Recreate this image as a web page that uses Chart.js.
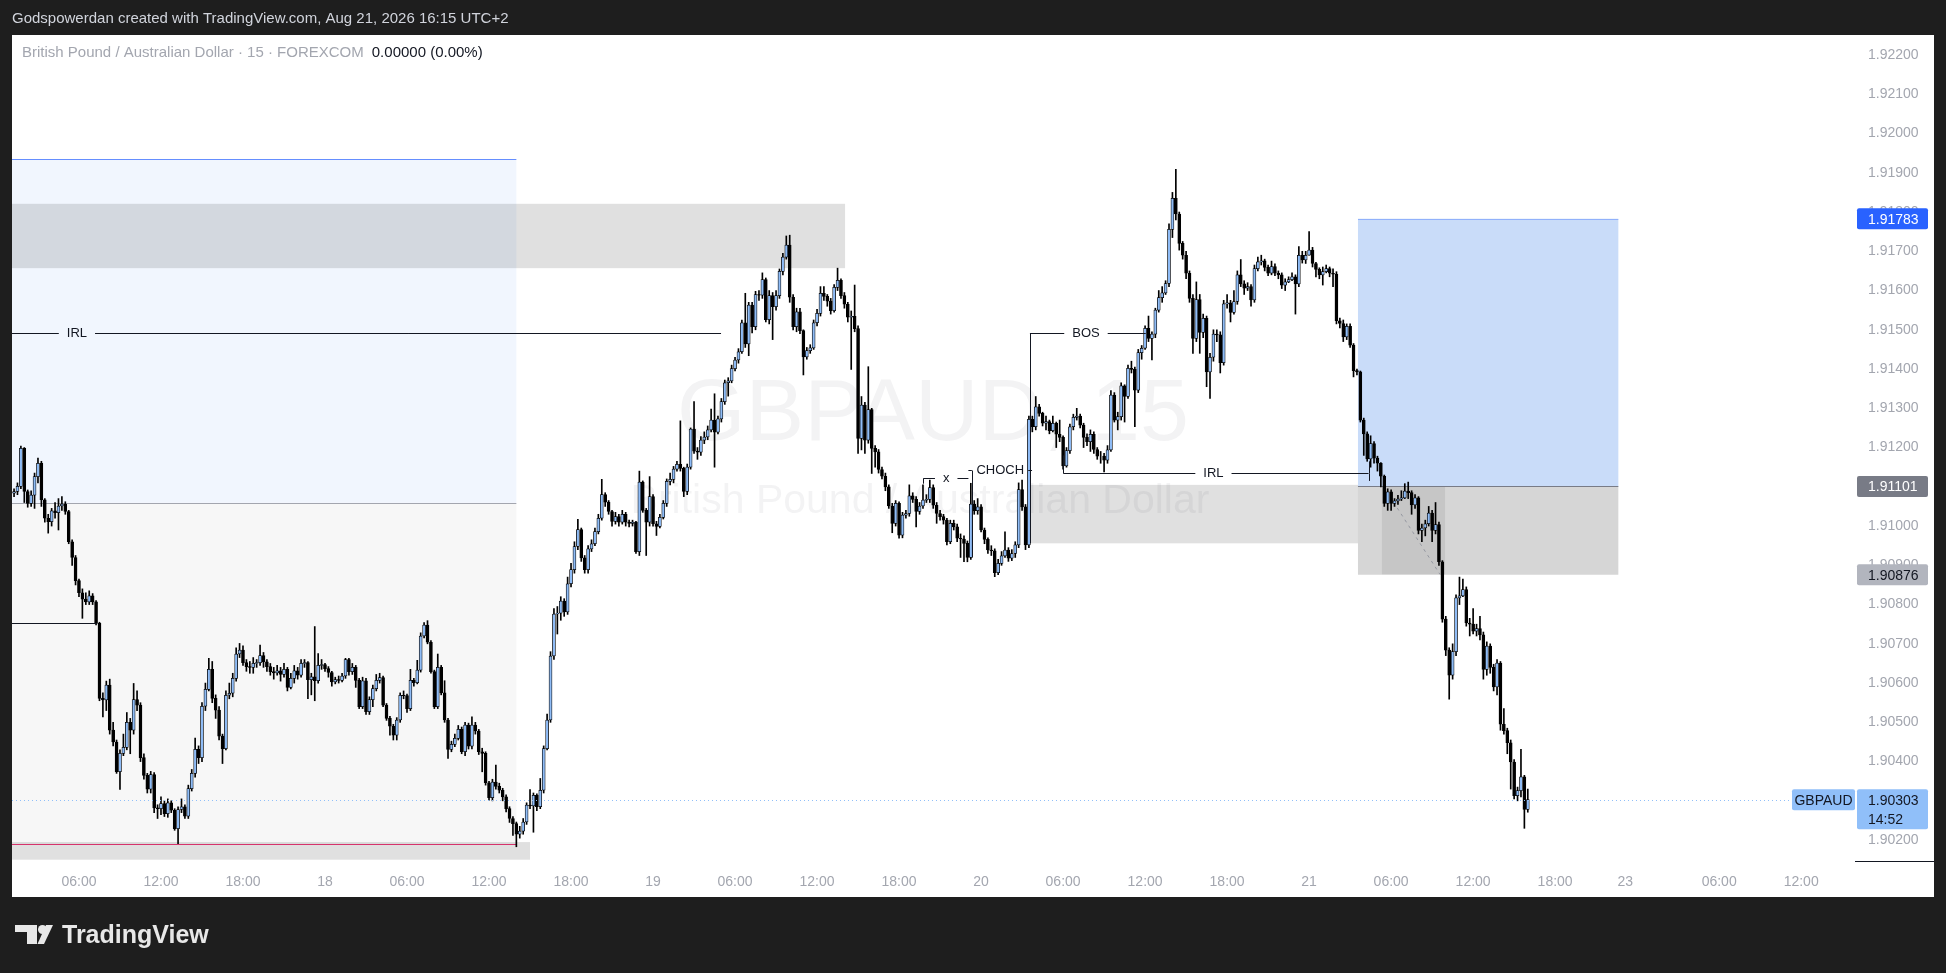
<!DOCTYPE html>
<html>
<head>
<meta charset="utf-8">
<title>GBPAUD 15</title>
<script src="https://cdn.jsdelivr.net/npm/chart.js@4.4.1/dist/chart.umd.min.js"></script>
<style>
  html, body { margin: 0; padding: 0; background: #1e1e1e; overflow: hidden; }
  #chart { display: block; }
</style>
</head>
<body>
<canvas id="chart" width="1946" height="973"></canvas>
<script>
// 15 min candles, Aug 17 01:15 -> Aug 21 16:00 (UTC+2). open of each bar = previous close
const firstOpen = 1.91084;
const closes = [
  1.91088, 1.91101, 1.91198, 1.91088, 1.91058, 1.91079, 1.91126, 1.91160, 1.91067, 1.91020,
  1.91011, 1.91039, 1.91034, 1.91051, 1.91056, 1.91037, 1.90960, 1.90920, 1.90861, 1.90830,
  1.90814, 1.90807, 1.90822, 1.90807, 1.90752, 1.90561, 1.90557, 1.90595, 1.90480, 1.90450,
  1.90374, 1.90421, 1.90436, 1.90500, 1.90480, 1.90558, 1.90544, 1.90410, 1.90365, 1.90330,
  1.90367, 1.90282, 1.90280, 1.90293, 1.90267, 1.90295, 1.90276, 1.90229, 1.90278, 1.90285,
  1.90261, 1.90331, 1.90370, 1.90431, 1.90410, 1.90541, 1.90584, 1.90635, 1.90561, 1.90531,
  1.90465, 1.90433, 1.90569, 1.90574, 1.90612, 1.90674, 1.90684, 1.90652, 1.90642, 1.90640,
  1.90650, 1.90652, 1.90670, 1.90654, 1.90642, 1.90629, 1.90626, 1.90631, 1.90622, 1.90635,
  1.90589, 1.90612, 1.90631, 1.90620, 1.90650, 1.90652, 1.90609, 1.90616, 1.90606, 1.90645,
  1.90647, 1.90637, 1.90627, 1.90603, 1.90609, 1.90607, 1.90618, 1.90660, 1.90629, 1.90640,
  1.90607, 1.90540, 1.90606, 1.90527, 1.90558, 1.90586, 1.90607, 1.90614, 1.90544, 1.90510,
  1.90490, 1.90467, 1.90506, 1.90569, 1.90568, 1.90535, 1.90607, 1.90601, 1.90633, 1.90720,
  1.90748, 1.90704, 1.90629, 1.90540, 1.90640, 1.90575, 1.90506, 1.90431, 1.90444, 1.90459,
  1.90482, 1.90425, 1.90493, 1.90439, 1.90493, 1.90478, 1.90425, 1.90421, 1.90346, 1.90308,
  1.90348, 1.90337, 1.90327, 1.90310, 1.90280, 1.90255, 1.90242, 1.90215, 1.90223, 1.90246,
  1.90289, 1.90287, 1.90314, 1.90285, 1.90327, 1.90433, 1.90506, 1.90669, 1.90776, 1.90778,
  1.90809, 1.90781, 1.90853, 1.90889, 1.90948, 1.90991, 1.90919, 1.90889, 1.90942, 1.90955,
  1.90986, 1.91020, 1.91080, 1.91061, 1.91037, 1.91012, 1.91024, 1.91010, 1.91030, 1.91010,
  1.91007, 1.91010, 1.90935, 1.91112, 1.91040, 1.91010, 1.91075, 1.91006, 1.90999, 1.91022,
  1.91058, 1.91114, 1.91119, 1.91145, 1.91157, 1.91147, 1.91088, 1.91150, 1.91247, 1.91191,
  1.91188, 1.91219, 1.91227, 1.91245, 1.91270, 1.91239, 1.91273, 1.91317, 1.91365, 1.91370,
  1.91401, 1.91423, 1.91444, 1.91518, 1.91464, 1.91563, 1.91508, 1.91590, 1.91588, 1.91628,
  1.91526, 1.91587, 1.91559, 1.91587, 1.91649, 1.91685, 1.91716, 1.91583, 1.91508, 1.91546,
  1.91498, 1.91431, 1.91447, 1.91454, 1.91518, 1.91542, 1.91593, 1.91585, 1.91573, 1.91549,
  1.91608, 1.91626, 1.91587, 1.91565, 1.91532, 1.91534, 1.91503, 1.91223, 1.91308, 1.91219,
  1.91297, 1.91198, 1.91189, 1.91144, 1.91127, 1.91100, 1.91051, 1.91007, 1.91058, 1.90977,
  1.91028, 1.91032, 1.91077, 1.91068, 1.91037, 1.91051, 1.91066, 1.91068, 1.91098, 1.91053,
  1.91032, 1.91024, 1.91015, 1.90960, 1.91007, 1.90998, 1.90969, 1.90967, 1.90956, 1.90920,
  1.91056, 1.91039, 1.91049, 1.90990, 1.90966, 1.90939, 1.90937, 1.90881, 1.90905, 1.90924,
  1.90939, 1.90918, 1.90930, 1.90952, 1.91093, 1.91049, 1.90952, 1.91272, 1.91253, 1.91304,
  1.91287, 1.91262, 1.91266, 1.91243, 1.91262, 1.91234, 1.91226, 1.91153, 1.91192, 1.91253,
  1.91277, 1.91280, 1.91257, 1.91226, 1.91215, 1.91234, 1.91195, 1.91178, 1.91178, 1.91168,
  1.91194, 1.91334, 1.91270, 1.91279, 1.91357, 1.91330, 1.91402, 1.91399, 1.91346, 1.91442,
  1.91453, 1.91504, 1.91478, 1.91489, 1.91550, 1.91582, 1.91594, 1.91618, 1.91756, 1.91835,
  1.91795, 1.91720, 1.91690, 1.91644, 1.91580, 1.91478, 1.91577, 1.91493, 1.91529, 1.91393,
  1.91430, 1.91489, 1.91487, 1.91416, 1.91566, 1.91569, 1.91544, 1.91572, 1.91640, 1.91617,
  1.91606, 1.91610, 1.91576, 1.91656, 1.91673, 1.91676, 1.91659, 1.91644, 1.91661, 1.91644,
  1.91640, 1.91614, 1.91622, 1.91628, 1.91635, 1.91617, 1.91690, 1.91678, 1.91690, 1.91703,
  1.91669, 1.91654, 1.91640, 1.91648, 1.91656, 1.91644, 1.91642, 1.91523, 1.91516, 1.91482,
  1.91509, 1.91461, 1.91396, 1.91393, 1.91270, 1.91235, 1.91171, 1.91210, 1.91173, 1.91160,
  1.91127, 1.91058, 1.91087, 1.91058, 1.91064, 1.91069, 1.91072, 1.91089, 1.91085, 1.91054,
  1.91072, 1.90989, 1.90995, 1.91006, 1.91033, 1.90989, 1.91004, 1.90909, 1.90763, 1.90684,
  1.90620, 1.90680, 1.90817, 1.90822, 1.90838, 1.90753, 1.90750, 1.90732, 1.90739, 1.90723,
  1.90635, 1.90694, 1.90640, 1.90590, 1.90651, 1.90495, 1.90479, 1.90448, 1.90399, 1.90313,
  1.90326, 1.90361, 1.90278, 1.90303
];
const highs = [
  1.91095, 1.91110, 1.91204, 1.91200, 1.91092, 1.91090, 1.91135, 1.91173, 1.91165, 1.91070,
  1.91030, 1.91045, 1.91060, 1.91070, 1.91075, 1.91062, 1.91040, 1.90965, 1.90925, 1.90865,
  1.90840, 1.90830, 1.90835, 1.90828, 1.90810, 1.90755, 1.90575, 1.90605, 1.90610, 1.90500,
  1.90455, 1.90430, 1.90470, 1.90525, 1.90510, 1.90599, 1.90580, 1.90550, 1.90420, 1.90370,
  1.90375, 1.90372, 1.90290, 1.90310, 1.90300, 1.90305, 1.90300, 1.90280, 1.90285, 1.90305,
  1.90290, 1.90340, 1.90380, 1.90460, 1.90440, 1.90550, 1.90600, 1.90663, 1.90655, 1.90570,
  1.90540, 1.90470, 1.90580, 1.90600, 1.90625, 1.90690, 1.90701, 1.90695, 1.90660, 1.90655,
  1.90665, 1.90660, 1.90697, 1.90678, 1.90660, 1.90650, 1.90640, 1.90645, 1.90640, 1.90650,
  1.90640, 1.90625, 1.90645, 1.90640, 1.90660, 1.90660, 1.90655, 1.90625, 1.90744, 1.90675,
  1.90660, 1.90650, 1.90642, 1.90630, 1.90615, 1.90618, 1.90625, 1.90663, 1.90663, 1.90650,
  1.90645, 1.90612, 1.90615, 1.90612, 1.90565, 1.90595, 1.90622, 1.90625, 1.90618, 1.90548,
  1.90515, 1.90495, 1.90512, 1.90575, 1.90580, 1.90572, 1.90635, 1.90612, 1.90658, 1.90728,
  1.90754, 1.90759, 1.90708, 1.90633, 1.90674, 1.90645, 1.90606, 1.90510, 1.90452, 1.90470,
  1.90492, 1.90488, 1.90500, 1.90498, 1.90514, 1.90500, 1.90482, 1.90434, 1.90425, 1.90350,
  1.90355, 1.90391, 1.90345, 1.90332, 1.90315, 1.90285, 1.90260, 1.90246, 1.90235, 1.90255,
  1.90295, 1.90329, 1.90320, 1.90318, 1.90357, 1.90440, 1.90521, 1.90680, 1.90790, 1.90795,
  1.90820, 1.90815, 1.90870, 1.90905, 1.90960, 1.91017, 1.90995, 1.90925, 1.90950, 1.90965,
  1.90995, 1.91030, 1.91119, 1.91085, 1.91065, 1.91040, 1.91035, 1.91030, 1.91040, 1.91035,
  1.91015, 1.91015, 1.91012, 1.91140, 1.91115, 1.91045, 1.91126, 1.91080, 1.91012, 1.91030,
  1.91065, 1.91120, 1.91135, 1.91152, 1.91165, 1.91268, 1.91150, 1.91158, 1.91250, 1.91317,
  1.91200, 1.91228, 1.91240, 1.91255, 1.91298, 1.91337, 1.91280, 1.91325, 1.91372, 1.91378,
  1.91410, 1.91430, 1.91452, 1.91525, 1.91593, 1.91570, 1.91570, 1.91598, 1.91600, 1.91645,
  1.91632, 1.91600, 1.91595, 1.91600, 1.91655, 1.91695, 1.91739, 1.91741, 1.91590, 1.91555,
  1.91555, 1.91500, 1.91455, 1.91462, 1.91525, 1.91552, 1.91610, 1.91610, 1.91590, 1.91580,
  1.91615, 1.91657, 1.91630, 1.91595, 1.91570, 1.91548, 1.91614, 1.91510, 1.91330, 1.91315,
  1.91406, 1.91300, 1.91205, 1.91195, 1.91150, 1.91135, 1.91105, 1.91058, 1.91065, 1.91062,
  1.91035, 1.91040, 1.91105, 1.91085, 1.91075, 1.91060, 1.91105, 1.91080, 1.91117, 1.91105,
  1.91060, 1.91040, 1.91030, 1.91020, 1.91015, 1.91015, 1.91005, 1.90980, 1.90975, 1.90962,
  1.91109, 1.91065, 1.91070, 1.91055, 1.90995, 1.90970, 1.90950, 1.90942, 1.90915, 1.90935,
  1.90985, 1.90945, 1.90940, 1.90960, 1.91110, 1.91117, 1.91055, 1.91280, 1.91280, 1.91330,
  1.91310, 1.91290, 1.91280, 1.91270, 1.91280, 1.91265, 1.91270, 1.91230, 1.91200, 1.91260,
  1.91285, 1.91300, 1.91285, 1.91262, 1.91235, 1.91245, 1.91240, 1.91200, 1.91190, 1.91185,
  1.91205, 1.91345, 1.91340, 1.91290, 1.91365, 1.91360, 1.91410, 1.91420, 1.91405, 1.91450,
  1.91460, 1.91510, 1.91535, 1.91495, 1.91555, 1.91600, 1.91610, 1.91625, 1.91770, 1.91850,
  1.91909, 1.91800, 1.91725, 1.91700, 1.91650, 1.91590, 1.91622, 1.91590, 1.91540, 1.91535,
  1.91440, 1.91500, 1.91500, 1.91495, 1.91575, 1.91590, 1.91575, 1.91600, 1.91650, 1.91679,
  1.91625, 1.91620, 1.91615, 1.91665, 1.91685, 1.91690, 1.91680, 1.91665, 1.91675, 1.91668,
  1.91650, 1.91645, 1.91630, 1.91635, 1.91645, 1.91640, 1.91712, 1.91700, 1.91700, 1.91750,
  1.91710, 1.91672, 1.91658, 1.91660, 1.91665, 1.91660, 1.91655, 1.91648, 1.91530, 1.91525,
  1.91515, 1.91515, 1.91465, 1.91400, 1.91395, 1.91275, 1.91240, 1.91230, 1.91215, 1.91178,
  1.91162, 1.91130, 1.91095, 1.91092, 1.91070, 1.91078, 1.91090, 1.91108, 1.91112, 1.91090,
  1.91080, 1.91075, 1.91005, 1.91015, 1.91050, 1.91040, 1.91060, 1.91010, 1.90912, 1.90770,
  1.90690, 1.90700, 1.90825, 1.90870, 1.90865, 1.90845, 1.90765, 1.90790, 1.90750, 1.90770,
  1.90730, 1.90705, 1.90700, 1.90648, 1.90660, 1.90655, 1.90535, 1.90485, 1.90455, 1.90405,
  1.90335, 1.90431, 1.90365, 1.90330
];
const lows = [
  1.91075, 1.91080, 1.91095, 1.91060, 1.91048, 1.91050, 1.91045, 1.91110, 1.91050, 1.91010,
  1.90982, 1.91000, 1.91020, 1.90990, 1.91040, 1.91030, 1.90955, 1.90900, 1.90850, 1.90820,
  1.90765, 1.90800, 1.90800, 1.90800, 1.90748, 1.90555, 1.90514, 1.90530, 1.90470, 1.90440,
  1.90370, 1.90329, 1.90415, 1.90430, 1.90420, 1.90470, 1.90530, 1.90400, 1.90355, 1.90320,
  1.90320, 1.90270, 1.90255, 1.90265, 1.90260, 1.90258, 1.90270, 1.90225, 1.90191, 1.90270,
  1.90255, 1.90255, 1.90325, 1.90360, 1.90395, 1.90400, 1.90530, 1.90580, 1.90550, 1.90510,
  1.90455, 1.90395, 1.90430, 1.90560, 1.90565, 1.90605, 1.90665, 1.90645, 1.90630, 1.90625,
  1.90625, 1.90640, 1.90645, 1.90640, 1.90630, 1.90620, 1.90610, 1.90620, 1.90605, 1.90615,
  1.90580, 1.90585, 1.90600, 1.90610, 1.90615, 1.90640, 1.90560, 1.90570, 1.90555, 1.90600,
  1.90635, 1.90630, 1.90615, 1.90592, 1.90598, 1.90600, 1.90603, 1.90612, 1.90620, 1.90622,
  1.90589, 1.90535, 1.90535, 1.90520, 1.90520, 1.90540, 1.90580, 1.90600, 1.90540, 1.90505,
  1.90467, 1.90455, 1.90455, 1.90500, 1.90560, 1.90525, 1.90530, 1.90592, 1.90598, 1.90628,
  1.90715, 1.90700, 1.90625, 1.90535, 1.90535, 1.90570, 1.90500, 1.90408, 1.90425, 1.90438,
  1.90455, 1.90420, 1.90415, 1.90432, 1.90432, 1.90470, 1.90418, 1.90374, 1.90340, 1.90302,
  1.90300, 1.90330, 1.90320, 1.90300, 1.90272, 1.90245, 1.90212, 1.90183, 1.90205, 1.90215,
  1.90240, 1.90280, 1.90220, 1.90275, 1.90280, 1.90320, 1.90430, 1.90500, 1.90660, 1.90725,
  1.90760, 1.90770, 1.90775, 1.90845, 1.90880, 1.90940, 1.90910, 1.90880, 1.90880, 1.90935,
  1.90950, 1.90980, 1.91015, 1.91050, 1.91030, 1.91000, 1.91005, 1.91000, 1.91005, 1.91000,
  1.90998, 1.91000, 1.90930, 1.90925, 1.91035, 1.90925, 1.91000, 1.91000, 1.90976, 1.90995,
  1.91018, 1.91050, 1.91105, 1.91110, 1.91140, 1.91140, 1.91075, 1.91080, 1.91145, 1.91185,
  1.91170, 1.91180, 1.91210, 1.91220, 1.91240, 1.91150, 1.91235, 1.91265, 1.91310, 1.91331,
  1.91365, 1.91395, 1.91415, 1.91440, 1.91455, 1.91434, 1.91492, 1.91500, 1.91575, 1.91580,
  1.91520, 1.91515, 1.91475, 1.91550, 1.91580, 1.91640, 1.91680, 1.91570, 1.91500, 1.91495,
  1.91490, 1.91385, 1.91425, 1.91440, 1.91450, 1.91510, 1.91535, 1.91575, 1.91560, 1.91540,
  1.91545, 1.91600, 1.91580, 1.91555, 1.91520, 1.91399, 1.91495, 1.91185, 1.91194, 1.91185,
  1.91211, 1.91134, 1.91150, 1.91135, 1.91120, 1.91090, 1.91045, 1.90983, 1.91000, 1.90969,
  1.90970, 1.91020, 1.91025, 1.91060, 1.90998, 1.91030, 1.91045, 1.91060, 1.91060, 1.91045,
  1.91007, 1.91015, 1.91005, 1.90952, 1.90955, 1.90990, 1.90960, 1.90920, 1.90909, 1.90909,
  1.90915, 1.91030, 1.91030, 1.90985, 1.90955, 1.90930, 1.90925, 1.90871, 1.90876, 1.90900,
  1.90920, 1.90910, 1.90912, 1.90920, 1.90945, 1.91040, 1.90940, 1.90945, 1.91240, 1.91245,
  1.91280, 1.91255, 1.91245, 1.91235, 1.91240, 1.91200, 1.91215, 1.91145, 1.91150, 1.91185,
  1.91245, 1.91270, 1.91250, 1.91200, 1.91205, 1.91190, 1.91185, 1.91170, 1.91160, 1.91138,
  1.91160, 1.91190, 1.91265, 1.91245, 1.91270, 1.91265, 1.91325, 1.91390, 1.91253, 1.91340,
  1.91425, 1.91450, 1.91470, 1.91423, 1.91480, 1.91545, 1.91570, 1.91590, 1.91610, 1.91735,
  1.91780, 1.91703, 1.91680, 1.91630, 1.91570, 1.91440, 1.91470, 1.91440, 1.91480, 1.91355,
  1.91325, 1.91420, 1.91470, 1.91390, 1.91410, 1.91555, 1.91520, 1.91540, 1.91565, 1.91610,
  1.91590, 1.91600, 1.91560, 1.91570, 1.91650, 1.91665, 1.91650, 1.91638, 1.91640, 1.91638,
  1.91630, 1.91605, 1.91600, 1.91620, 1.91625, 1.91540, 1.91610, 1.91670, 1.91669, 1.91690,
  1.91660, 1.91635, 1.91630, 1.91614, 1.91645, 1.91635, 1.91610, 1.91515, 1.91505, 1.91470,
  1.91475, 1.91455, 1.91380, 1.91385, 1.91265, 1.91180, 1.91165, 1.91150, 1.91160, 1.91140,
  1.91100, 1.91050, 1.91040, 1.91040, 1.91050, 1.91055, 1.91065, 1.91070, 1.91070, 1.91030,
  1.91045, 1.90980, 1.90960, 1.90975, 1.91000, 1.90960, 1.90980, 1.90900, 1.90755, 1.90670,
  1.90559, 1.90610, 1.90670, 1.90800, 1.90820, 1.90745, 1.90720, 1.90725, 1.90720, 1.90710,
  1.90610, 1.90620, 1.90625, 1.90580, 1.90570, 1.90480, 1.90470, 1.90420, 1.90330, 1.90305,
  1.90300, 1.90310, 1.90230, 1.90271
];

// time axis: bar index of each label and its text
const timeTicks = [19, 43, 67, 91, 115, 139, 163, 187, 211, 235, 259, 283, 307, 331, 355, 379, 403, 427, 451, 471.5, 499, 523];
const timeLabels = ['06:00', '12:00', '18:00', '18', '06:00', '12:00', '18:00', '19', '06:00', '12:00', '18:00', '20',
  '06:00', '12:00', '18:00', '21', '06:00', '12:00', '18:00', '23', '06:00', '12:00'];
const priceTicks = [1.90200, 1.90300, 1.90400, 1.90500, 1.90600, 1.90700, 1.90800, 1.90900, 1.91000, 1.91100, 1.91200,
  1.91300, 1.91400, 1.91500, 1.91600, 1.91700, 1.91800, 1.91900, 1.92000, 1.92100, 1.92200];

const lastPrice = 1.90303;
const countdown = '14:52';

// drawings, in bar index / price
const leftTrade = { from: -0.6, to: 147, target: 1.91935, entry: 1.91059, stop: 1.90190 };
const rightTrade = { from: 393.3, to: 469.5, target: 1.91783, entry: 1.91101, stop: 1.90876 };
const supplyZone = { from: -0.6, to: 243.2, top: 1.91821, bottom: 1.91657 };
const fvgZone = { from: 297.3, to: 402.5, top: 1.91105, bottom: 1.90956 };
const sweepZone = { from: 400.3, to: 418.8, top: 1.91101, bottom: 1.90877 };
const lowZone = { from: -0.6, to: 151, top: 1.90195, bottom: 1.90150 };
const levels = [
  { label: 'IRL', from: -0.6, to: 206.9, price: 1.91492, at: 18.4 },
  { label: '', from: -0.6, to: 24.3, price: 1.90753 },
  { label: 'x', from: 266.1, to: 279.3, price: 1.91123, at: 272.8, legs: [[266.1, 1.91108]] },
  { label: 'CHOCH', from: 280.3, to: 296.8, price: 1.91144, at: 288.6, legs: [[280.3, 1.90920]] },
  { label: 'BOS', from: 297.3, to: 331.2, price: 1.91493, at: 313.7, legs: [[297.3, 1.90956]] },
  { label: 'IRL', from: 307.1, to: 396.4, price: 1.91136, at: 351, legs: [[307.1, 1.91180], [396.4, 1.91165], [396.4, 1.91115]] }
];

const FONT = "'Liberation Sans', Arial, sans-serif";
const UP = '#8fbcf6';
const DOWN = '#000000';

const opens = closes.map((c, k) => k === 0 ? firstOpen : closes[k - 1]);
const bodies = closes.map((c, k) => ({ x: k, y: [opens[k], c] }));
const wicks = closes.map((c, k) => ({
  x: k,
  y: [Math.min(lows[k], opens[k], c), Math.max(highs[k], opens[k], c)]
}));

function hline(c, x1, x2, y) {
  c.beginPath(); c.moveTo(x1, y); c.lineTo(x2, y); c.stroke();
}

function box(c, xs, ys, z, color) {
  const x1 = xs.getPixelForValue(z.from), x2 = xs.getPixelForValue(z.to);
  const y1 = ys.getPixelForValue(z.top), y2 = ys.getPixelForValue(z.bottom);
  c.fillStyle = color;
  c.fillRect(x1, y1, x2 - x1, y2 - y1);
}

function roundBox(c, x, y, w, h, r) {
  c.beginPath();
  c.moveTo(x + r, y); c.lineTo(x + w - r, y); c.quadraticCurveTo(x + w, y, x + w, y + r);
  c.lineTo(x + w, y + h - r); c.quadraticCurveTo(x + w, y + h, x + w - r, y + h);
  c.lineTo(x + r, y + h); c.quadraticCurveTo(x, y + h, x, y + h - r);
  c.lineTo(x, y + r); c.quadraticCurveTo(x, y, x + r, y);
  c.closePath(); c.fill();
}

function tag(c, y, text, bg, fg) {
  c.fillStyle = bg;
  roundBox(c, 1857, y - 10.5, 71, 21, 2);
  c.fillStyle = fg;
  c.textAlign = 'left';
  c.fillText(text, 1868, y + 1);
}

const decor = {
  id: 'decor',
  beforeDraw(chart) {
    const c = chart.ctx;
    c.save();
    c.fillStyle = '#1e1e1e';
    c.fillRect(0, 0, chart.width, chart.height);
    c.fillStyle = '#ffffff';
    c.fillRect(12, 35, 1922, 862);
    c.textBaseline = 'middle';
    c.font = '15px ' + FONT;
    c.fillStyle = '#d1d4dc';
    c.fillText('Godspowerdan created with TradingView.com, Aug 21, 2026 16:15 UTC+2', 12, 19);
    c.restore();
  },
  beforeDatasetsDraw(chart) {
    const c = chart.ctx, a = chart.chartArea;
    const xs = chart.scales.x, ys = chart.scales.y;
    c.save();
    c.beginPath(); c.rect(a.left, a.top, a.right - a.left, a.bottom - a.top); c.clip();

    // left position tool (faded)
    box(c, xs, ys, { from: leftTrade.from, to: leftTrade.to, top: leftTrade.target, bottom: leftTrade.entry }, '#f1f6fe');
    box(c, xs, ys, { from: leftTrade.from, to: leftTrade.to, top: leftTrade.entry, bottom: leftTrade.stop }, '#f7f7f7');
    box(c, xs, ys, supplyZone, 'rgba(0,0,0,0.12)');
    box(c, xs, ys, lowZone, 'rgba(0,0,0,0.12)');
    c.lineWidth = 1;
    const lx1 = xs.getPixelForValue(leftTrade.from), lx2 = xs.getPixelForValue(leftTrade.to);
    c.strokeStyle = 'rgba(41,98,255,0.7)';
    hline(c, lx1, lx2, Math.round(ys.getPixelForValue(leftTrade.target)) + 0.5);
    c.strokeStyle = '#a3a6af';
    hline(c, lx1, lx2, Math.round(ys.getPixelForValue(leftTrade.entry)) + 0.5);
    c.strokeStyle = '#d6336c';
    hline(c, lx1, lx2, Math.round(ys.getPixelForValue(leftTrade.stop)) + 0.5);

    // right side zones
    box(c, xs, ys, fvgZone, 'rgba(0,0,0,0.12)');
    box(c, xs, ys, { from: rightTrade.from, to: rightTrade.to, top: rightTrade.target, bottom: rightTrade.entry }, '#c9dcf9');
    box(c, xs, ys, { from: rightTrade.from, to: rightTrade.to, top: rightTrade.entry, bottom: rightTrade.stop }, '#d6d6d6');
    box(c, xs, ys, sweepZone, 'rgba(0,0,0,0.07)');
    const rx1 = xs.getPixelForValue(rightTrade.from), rx2 = xs.getPixelForValue(rightTrade.to);
    c.strokeStyle = 'rgba(41,98,255,0.35)';
    hline(c, rx1, rx2, Math.round(ys.getPixelForValue(rightTrade.target)) + 0.5);
    c.strokeStyle = '#787b86';
    hline(c, rx1, rx2, Math.round(ys.getPixelForValue(rightTrade.entry)) + 0.5);

    // dashed path inside the sweep box
    c.strokeStyle = '#9598a1';
    c.setLineDash([3, 4]);
    c.beginPath();
    c.moveTo(xs.getPixelForValue(sweepZone.from + 3.4), ys.getPixelForValue(1.91061));
    c.lineTo(xs.getPixelForValue(sweepZone.to - 1.5), ys.getPixelForValue(sweepZone.bottom));
    c.stroke();
    c.setLineDash([]);

    // symbol watermark
    c.textAlign = 'center';
    c.textBaseline = 'middle';
    c.fillStyle = 'rgba(19,23,34,0.05)';
    c.font = '88px ' + FONT;
    c.fillText('GBPAUD, 15', 933, 416);
    c.font = '41px ' + FONT;
    c.fillText('British Pound / Australian Dollar', 920, 502);
    c.restore();
  },
  afterDatasetsDraw(chart) {
    const c = chart.ctx, a = chart.chartArea;
    const xs = chart.scales.x, ys = chart.scales.y;
    c.save();
    c.beginPath(); c.rect(a.left, a.top, a.right - a.left, a.bottom - a.top); c.clip();

    // last price dotted line
    c.strokeStyle = '#90bff9';
    c.lineWidth = 1;
    c.setLineDash([1, 3]);
    hline(c, a.left, a.right, Math.round(ys.getPixelForValue(lastPrice)) + 0.5);
    c.setLineDash([]);

    // structure labels
    c.strokeStyle = '#131722';
    c.fillStyle = '#131722';
    c.font = '13px ' + FONT;
    c.textAlign = 'center';
    c.textBaseline = 'middle';
    levels.forEach(lv => {
      const y = Math.round(ys.getPixelForValue(lv.price)) + 0.5;
      const x1 = xs.getPixelForValue(lv.from), x2 = xs.getPixelForValue(lv.to);
      if (lv.label) {
        const xm = xs.getPixelForValue(lv.at);
        const half = c.measureText(lv.label).width / 2 + 8;
        hline(c, x1, xm - half, y);
        hline(c, xm + half, x2, y);
        c.fillText(lv.label, xm, y);
      } else {
        hline(c, x1, x2, y);
      }
      (lv.legs || []).forEach(([k, p]) => {
        const x = Math.round(xs.getPixelForValue(k)) + 0.5;
        c.beginPath(); c.moveTo(x, y); c.lineTo(x, ys.getPixelForValue(p)); c.stroke();
      });
    });
    c.restore();
  },
  afterDraw(chart) {
    const c = chart.ctx;
    const ys = chart.scales.y;
    c.save();
    c.textBaseline = 'middle';

    // legend line
    c.font = '15px ' + FONT;
    c.fillStyle = '#a3a6af';
    c.textAlign = 'left';
    const title = 'British Pound / Australian Dollar \u00b7 15 \u00b7 FOREXCOM';
    c.fillText(title, 22, 53);
    c.fillStyle = '#131722';
    c.fillText('0.00000 (0.00%)', 22 + c.measureText(title).width + 8, 53);

    // price axis tags
    c.font = '14px ' + FONT;
    tag(c, ys.getPixelForValue(rightTrade.target), rightTrade.target.toFixed(5), '#2962ff', '#ffffff');
    tag(c, ys.getPixelForValue(rightTrade.entry), rightTrade.entry.toFixed(5), '#787b86', '#ffffff');
    tag(c, ys.getPixelForValue(rightTrade.stop), rightTrade.stop.toFixed(5), '#b2b5be', '#131722');

    const yl = ys.getPixelForValue(lastPrice);
    c.fillStyle = '#90bff9';
    roundBox(c, 1857, yl - 10.5, 71, 40, 2);
    roundBox(c, 1792, yl - 10.5, 63, 21, 2);
    c.fillStyle = '#131722';
    c.fillText(lastPrice.toFixed(5), 1868, yl + 1);
    c.fillText(countdown, 1868, yl + 20);
    c.textAlign = 'center';
    c.fillText('GBPAUD', 1823.5, yl + 1);

    // small marker at the foot of the price scale
    c.strokeStyle = '#131722';
    c.lineWidth = 1;
    hline(c, 1855, 1934, 861.5);

    // TradingView logo
    c.fillStyle = '#e8e8e8';
    c.fillRect(15, 925, 22, 7);
    c.fillRect(27, 925, 10, 19);
    c.beginPath(); c.arc(42.5, 929.5, 4.5, 0, Math.PI * 2); c.fill();
    c.beginPath();
    c.moveTo(46, 925); c.lineTo(53, 925); c.lineTo(44, 944); c.lineTo(37.5, 944);
    c.closePath(); c.fill();
    c.textAlign = 'left';
    c.font = 'bold 25px ' + FONT;
    c.fillText('TradingView', 62, 936);
    c.restore();
  }
};

new Chart(document.getElementById('chart'), {
  type: 'bar',
  data: {
    datasets: [
      {
        label: 'wicks',
        data: wicks,
        backgroundColor: '#000000',
        barThickness: 1,
        grouped: false,
        order: 2
      },
      {
        label: 'GBPAUD',
        data: bodies,
        backgroundColor: ctx => {
          const k = ctx.dataIndex;
          return closes[k] >= opens[k] ? UP : DOWN;
        },
        borderColor: '#000000',
        borderWidth: 0.75,
        borderSkipped: false,
        barThickness: 3,
        grouped: false,
        order: 1
      }
    ]
  },
  options: {
    responsive: false,
    animation: false,
    events: [],
    layout: { padding: { left: 12, top: 35, right: 12, bottom: 76 } },
    plugins: { legend: { display: false }, tooltip: { enabled: false } },
    scales: {
      x: {
        type: 'linear',
        min: -0.6,
        max: 537,
        offset: false,
        grid: { display: false, drawTicks: false },
        border: { display: false },
        afterBuildTicks: s => { s.ticks = timeTicks.map(v => ({ value: v })); },
        afterFit: s => { s.height = 31; },
        ticks: {
          autoSkip: false,
          maxRotation: 0,
          padding: 8,
          color: '#a3a6af',
          font: { family: FONT, size: 14 },
          callback: (v, i) => timeLabels[i]
        }
      },
      y: {
        position: 'right',
        min: 1.90134,
        max: 1.92251,
        grid: { display: false, drawTicks: false },
        border: { display: false },
        afterBuildTicks: s => { s.ticks = priceTicks.map(v => ({ value: v })); },
        afterFit: s => { s.width = 85; },
        ticks: {
          padding: 19,
          color: '#a3a6af',
          font: { family: FONT, size: 14 },
          callback: v => v.toFixed(5)
        }
      }
    }
  },
  plugins: [decor]
});
</script>
</body>
</html>
